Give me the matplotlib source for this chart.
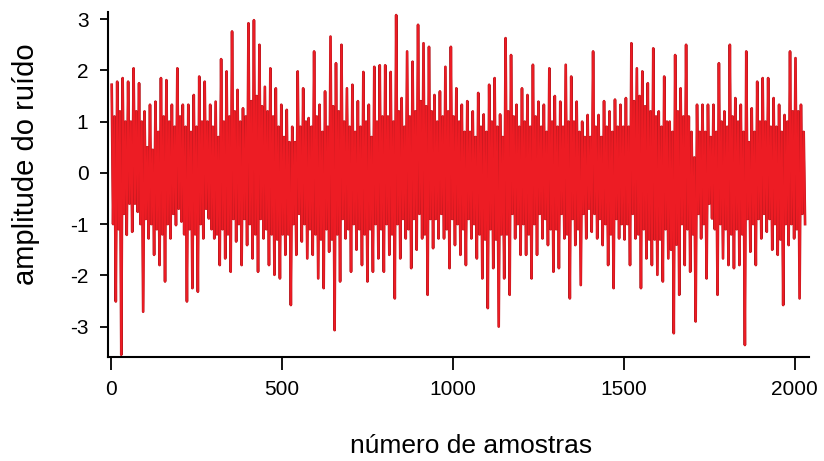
import matplotlib
matplotlib.use("Agg")
import matplotlib.pyplot as plt
import numpy as np

plt.rcParams['font.family'] = ['Liberation Sans', 'DejaVu Sans']
plt.rcParams['axes.unicode_minus'] = False

# noise, per block of 16 samples:
# spike maximum, spike minimum and the edges of the solid core band
block_max = [1.72, 1.78, 1.85, 1.78, 2.04, 1.75, 1.20, 1.33, 1.39, 1.85,
             1.81, 1.33, 2.04, 1.33, 1.33, 1.52, 1.88, 1.78,
             1.33, 1.39, 2.22, 1.98, 2.76, 1.62, 1.26, 2.92, 2.98, 2.50,
             1.68, 2.04, 1.65, 1.33, 1.23, 0.90, 1.98, 1.65,
             1.07, 2.37, 1.33, 1.59, 2.66, 2.14, 2.50, 1.65, 1.72, 1.40,
             1.97, 1.33, 2.07, 2.10, 2.10, 1.97, 3.08, 1.46,
             2.37, 2.17, 2.89, 2.53, 2.46, 1.52, 1.59, 2.07, 2.46, 1.65,
             1.33, 1.40, 1.20, 1.56, 1.14, 1.72, 1.85, 1.14,
             2.63, 2.30, 1.33, 1.65, 1.52, 2.11, 1.39, 1.33, 2.04, 1.50,
             1.39, 2.11, 1.88, 1.39, 1.00, 1.13, 2.37, 1.13,
             1.40, 1.20, 1.43, 1.33, 1.46, 2.53, 2.04, 1.98, 1.75, 2.43,
             1.20, 1.88, 1.00, 2.30, 1.65, 2.50, 0.80, 1.33,
             1.33, 1.33, 1.33, 2.14, 1.20, 2.50, 1.46, 1.33, 2.37, 1.26,
             1.78, 1.85, 1.85, 1.46, 1.33, 1.13, 2.37, 2.24, 1.33]
block_min = [-2.51, -3.55, -1.21, -1.15, -0.76, -2.71, -1.28, -1.60, -1.80, -2.12,
             -1.28, -1.02, -0.95, -2.51, -2.25, -2.32, -1.28, -0.89,
             -1.28, -1.80, -1.67, -1.93, -1.34, -1.80, -1.41, -1.67, -1.93, -1.28,
             -1.80, -1.99, -2.06, -1.60, -2.58, -1.60, -1.34, -1.67,
             -1.60, -2.06, -2.25, -1.54, -3.07, -2.12, -1.28, -1.93, -1.50, -1.80,
             -2.12, -1.93, -1.67, -1.93, -1.60, -2.45, -1.67, -1.28,
             -1.86, -1.50, -1.28, -2.38, -1.47, -1.28, -1.28, -1.86, -1.41, -1.60,
             -1.80, -1.28, -1.67, -2.06, -2.64, -1.86, -3.00, -2.06,
             -2.38, -1.28, -1.60, -1.60, -2.06, -1.60, -1.28, -1.41, -1.93, -1.86,
             -1.28, -2.45, -1.41, -2.19, -1.28, -1.15, -1.28, -1.41,
             -1.80, -2.25, -1.28, -1.30, -1.80, -1.28, -2.25, -1.67, -1.80, -1.99,
             -2.12, -1.67, -3.13, -2.38, -1.80, -1.93, -2.90, -1.28,
             -2.06, -0.89, -2.38, -1.67, -1.80, -1.86, -1.80, -3.36, -1.54, -1.80,
             -1.28, -1.15, -1.50, -1.60, -2.58, -1.41, -1.28, -2.45, -1.00]
core_hi = [1.1, 1.2, 1.0, 1.0, 1.2, 1.0, 0.5, 0.45, 0.8, 1.1, 1.0, 0.9, 1.1, 0.9, 0.8, 0.9, 1.0, 1.0,
           0.9, 0.7, 1.0, 1.1, 1.2, 1.0, 1.1, 1.4, 1.5, 1.3, 1.2, 1.1, 0.9, 0.7, 0.6, 0.6, 0.9, 1.0,
           0.9, 1.1, 0.8, 0.9, 1.3, 1.2, 1.0, 0.9, 0.8, 0.9, 1.0, 0.7, 1.0, 1.1, 1.1, 1.0, 1.2, 0.9,
           1.1, 1.2, 1.4, 1.3, 1.2, 1.0, 1.1, 1.2, 1.1, 1.0, 0.8, 0.8, 0.7, 0.9, 0.8, 1.0, 0.9, 0.7,
           1.2, 1.1, 0.9, 1.0, 0.9, 1.1, 0.9, 0.8, 1.0, 0.9, 0.9, 1.0, 1.0, 0.8, 0.7, 0.7, 0.9, 0.7,
           0.9, 0.8, 0.9, 0.9, 0.9, 1.4, 1.5, 1.3, 1.2, 1.1, 0.9, 1.0, 0.8, 1.2, 1.1, 1.1, 0.3, 0.8,
           0.8, 0.7, 0.8, 1.0, 0.9, 1.1, 1.0, 0.8, 0.6, 0.8, 1.0, 1.0, 0.9, 0.9, 0.8, 1.0, 1.2, 1.2, 0.8]
core_lo = [-1.0, -1.1, -0.8, -0.6, -0.6, -1.0, -0.9, -1.0, -1.1, -1.2, -1.0, -0.8, -0.7, -1.2, -1.1, -1.2, -1.0, -0.7,
           -1.1, -1.2, -1.1, -1.2, -0.9, -1.0, -0.9, -1.0, -1.2, -0.9, -1.1, -1.2, -1.3, -1.2, -1.2, -1.0, -0.8, -1.0,
           -1.1, -1.2, -1.3, -1.1, -1.3, -1.2, -0.9, -1.1, -1.0, -1.1, -1.2, -1.1, -1.0, -1.1, -1.0, -1.2, -1.0, -0.9,
           -1.1, -0.9, -0.8, -1.2, -0.9, -0.9, -0.8, -1.1, -0.9, -1.0, -1.1, -0.9, -1.0, -1.2, -1.3, -1.1, -1.3, -1.2,
           -1.2, -0.8, -1.0, -1.0, -1.2, -1.0, -0.8, -0.9, -1.1, -1.1, -0.8, -1.2, -0.9, -1.1, -0.8, -0.7, -0.8, -0.9,
           -1.0, -1.2, -0.9, -1.0, -1.0, -0.8, -1.2, -1.1, -1.3, -1.3, -1.3, -1.1, -1.5, -1.4, -1.0, -1.1, -1.2, -0.8,
           -1.0, -0.6, -1.1, -1.0, -1.1, -1.2, -1.1, -1.2, -0.9, -1.0, -0.9, -0.8, -0.9, -1.0, -1.3, -1.0, -1.0, -1.1, -0.8]

x_ticks = [0, 500, 1000, 1500, 2000]
y_ticks = [-3, -2, -1, 0, 1, 2, 3]

amp = []
for hi, lo, c_hi, c_lo in zip(block_max, block_min, core_hi, core_lo):
    amp += [hi, c_lo, c_hi, lo]
amp = np.array(amp)
samples = np.arange(len(amp)) * 4 + 2

fig = plt.figure(figsize=(8.24, 4.61), dpi=100)
ax = fig.add_axes([0.131, 0.226, 0.851, 0.748])
# darker edge under the red trace, like the scanned original
ax.plot(samples, amp, color='#b4171e', lw=1.9)
ax.plot(samples, amp, color='#ed1c24', lw=1.3)

ax.set_xlim(-9, 2042)
ax.set_ylim(-3.59, 3.14)
ax.set_xticks(x_ticks)
ax.set_yticks(y_ticks)
ax.spines['top'].set_visible(False)
ax.spines['right'].set_visible(False)
for s in ['left', 'bottom']:
    ax.spines[s].set_linewidth(1.5)
ax.tick_params(axis='x', direction='out', length=9, width=1.3, labelsize=15, pad=8)
ax.tick_params(axis='y', direction='out', length=6, width=1.3, labelsize=15, pad=8)
ax.set_xlabel('número de amostras', fontsize=19)
ax.set_ylabel('amplitude do ruído', fontsize=21)
ax.xaxis.set_label_coords(0.518, -0.225)
ax.yaxis.set_label_coords(-0.097, 0.56)

fig.savefig('out.png', dpi=100)
